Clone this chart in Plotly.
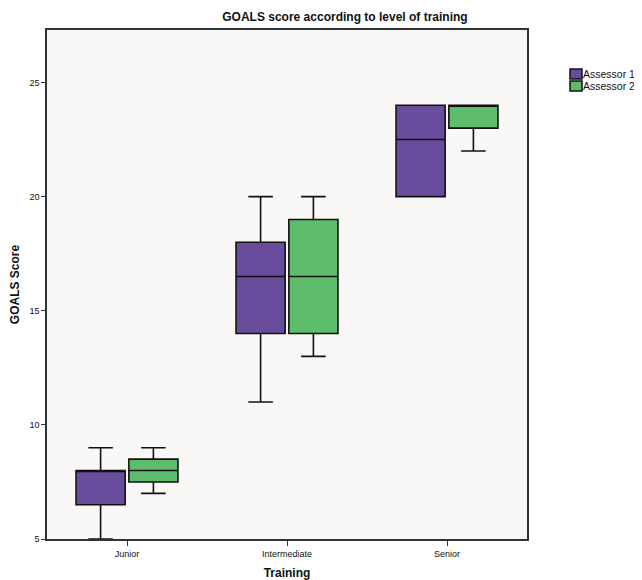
import plotly.graph_objects as go

categories = ["Junior", "Intermediate", "Senior"]
series_names = ["Assessor 1", "Assessor 2"]

a1_min = [5, 11, 20]
a1_q1 = [6.5, 14, 20]
a1_med = [8, 16.5, 22.5]
a1_q3 = [8, 18, 24]
a1_max = [9, 20, 24]

a2_min = [7, 13, 22]
a2_q1 = [7.5, 14, 23]
a2_med = [8, 16.5, 24]
a2_q3 = [8.5, 19, 24]
a2_max = [9, 20, 24]

y_ticks = [5, 10, 15, 20, 25]

colors = ["#6a4c9c", "#5dbd6c"]

fig = go.Figure()
stats = [
    (a1_min, a1_q1, a1_med, a1_q3, a1_max),
    (a2_min, a2_q1, a2_med, a2_q3, a2_max),
]
for name, col, (mn, q1, md, q3, mx) in zip(series_names, colors, stats):
    fig.add_trace(go.Box(
        name=name, x=categories,
        lowerfence=mn, q1=q1, median=md, q3=q3, upperfence=mx,
        fillcolor=col, line=dict(color="#111111", width=1.6),
        whiskerwidth=0.5, boxpoints=False, hoverinfo="skip",
        showlegend=False,
    ))

# Legend drawn as squares + text (keeps text next to the swatch like the original)
leg_y = [(0.9234, 0.9037), (0.8998, 0.8802)]
for name, col, (ytop, ybot) in zip(series_names, colors, leg_y):
    fig.add_shape(type="rect", xref="paper", yref="paper",
                  x0=1.0896, x1=1.1146, y0=ybot, y1=ytop,
                  fillcolor=col, line=dict(color="#111111", width=1.5))
    fig.add_annotation(text=name, xref="paper", yref="paper",
                       x=1.115, y=(ytop + ybot) / 2, xanchor="left", yanchor="middle",
                       showarrow=False, borderpad=0,
                       font=dict(size=10.5, color="#111111"))

fig.update_layout(
    width=634, height=572,
    margin=dict(l=39, r=115, t=22, b=41, autoexpand=False),
    paper_bgcolor="white", plot_bgcolor="#faf8f6",
    boxmode="group", boxgap=0.34, boxgroupgap=0.07,
    font=dict(family="Liberation Sans, Arial", color="#111111"),
    title=dict(text="<b>GOALS score according to level of training</b>",
               x=0.5315, xref="container", xanchor="center",
               y=0.984, yref="container", yanchor="middle",
               font=dict(size=12)),
    showlegend=False,
)
fig.update_xaxes(
    type="category", range=[-0.5, 2.5], automargin=False,
    showline=True, linecolor="#2b3535", linewidth=1.5, mirror=True,
    ticks="outside", ticklen=5, tickcolor="#2b3535",
    tickfont=dict(size=9), showgrid=False,
    title=dict(text="<b>Training</b>", font=dict(size=12), standoff=17),
)
fig.update_yaxes(
    range=[5, 27.3], tickvals=y_ticks, automargin=False,
    showline=True, linecolor="#2b3535", linewidth=1.5, mirror=True,
    ticks="outside", ticklen=4, tickcolor="#2b3535",
    tickfont=dict(size=9), showgrid=False, zeroline=False,
    title=dict(text="<b>GOALS Score</b>", font=dict(size=12), standoff=8),
)

fig.write_html("out.html")
